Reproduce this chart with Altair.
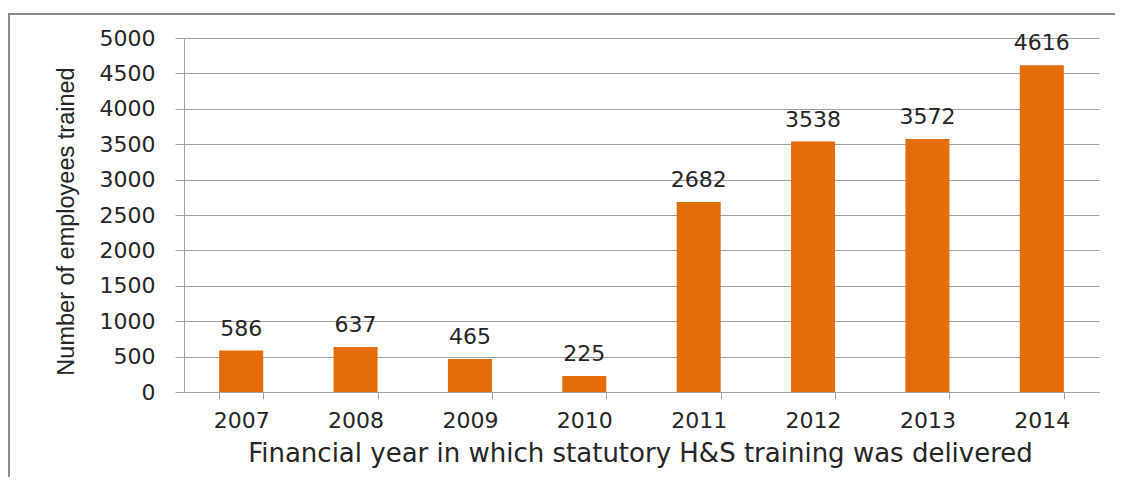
import altair as alt
import pandas as pd

years = ["2007", "2008", "2009", "2010", "2011", "2012", "2013", "2014"]
trained = [586, 637, 465, 225, 2682, 3538, 3572, 4616]
y_ticks = [0, 500, 1000, 1500, 2000, 2500, 3000, 3500, 4000, 4500, 5000]

df = pd.DataFrame({"year": years, "trained": trained})

W, H = 915, 354
GRAY = "#a0a0a0"
TXT = "#262626"

x = alt.X(
    "year:N",
    sort=years,
    scale=alt.Scale(paddingInner=0.615, paddingOuter=0.3075),
    axis=alt.Axis(
        title="Financial year in which statutory H&S training was delivered",
        labelAngle=0,
        labelFont="DejaVu Sans",
        labelFontSize=22,
        labelColor=TXT,
        labelPadding=11,
        tickBand="extent",
        tickSize=7,
        tickColor=GRAY,
        domainColor=GRAY,
        titleFont="DejaVu Sans",
        titleFontSize=26,
        titleFontWeight="normal",
        titleColor=TXT,
        titleX=456,
        titleY=61,
        titleAlign="center",
        titleBaseline="middle",
    ),
)
y = alt.Y(
    "trained:Q",
    scale=alt.Scale(domain=[0, 5000], nice=False),
    axis=alt.Axis(
        values=y_ticks,
        format="d",
        labelOverlap=False,
        title="Number of employees trained",
        labelFont="DejaVu Sans",
        labelFontSize=22,
        labelColor=TXT,
        labelPadding=20,
        tickSize=9,
        tickColor=GRAY,
        domainColor=GRAY,
        gridColor=GRAY,
        titleFont="Liberation Sans",
        titleFontSize=23.5,
        titleFontWeight="normal",
        titleColor=TXT,
        titleAngle=-90,
        titleX=-118,
        titleY=183,
        titleAlign="center",
        titleBaseline="middle",
    ),
)

base = alt.Chart(df).encode(x=x, y=y)
bars = base.mark_bar(color="#E46C0A")
labels = base.mark_text(
    font="DejaVu Sans", fontSize=22, color=TXT, dy=-15, baseline="alphabetic"
).encode(text="trained:Q")

border = alt.Chart(df).mark_rect(
    fill=None, stroke="#8c8c8c", strokeWidth=2, clip=False
).encode(
    x=alt.value(-175), x2=alt.value(W + 200), y=alt.value(-24), y2=alt.value(H + 300)
)

chart = (
    alt.layer(border, bars, labels)
    .properties(
        width=W,
        height=H,
        autosize=alt.AutoSizeParams(type="none"),
        padding={"left": 176, "top": 30, "right": 16, "bottom": 85},
        background="white",
    )
    .configure_view(stroke=None)
)

chart.save("out.html", embed_options={"renderer": "svg", "actions": False})
